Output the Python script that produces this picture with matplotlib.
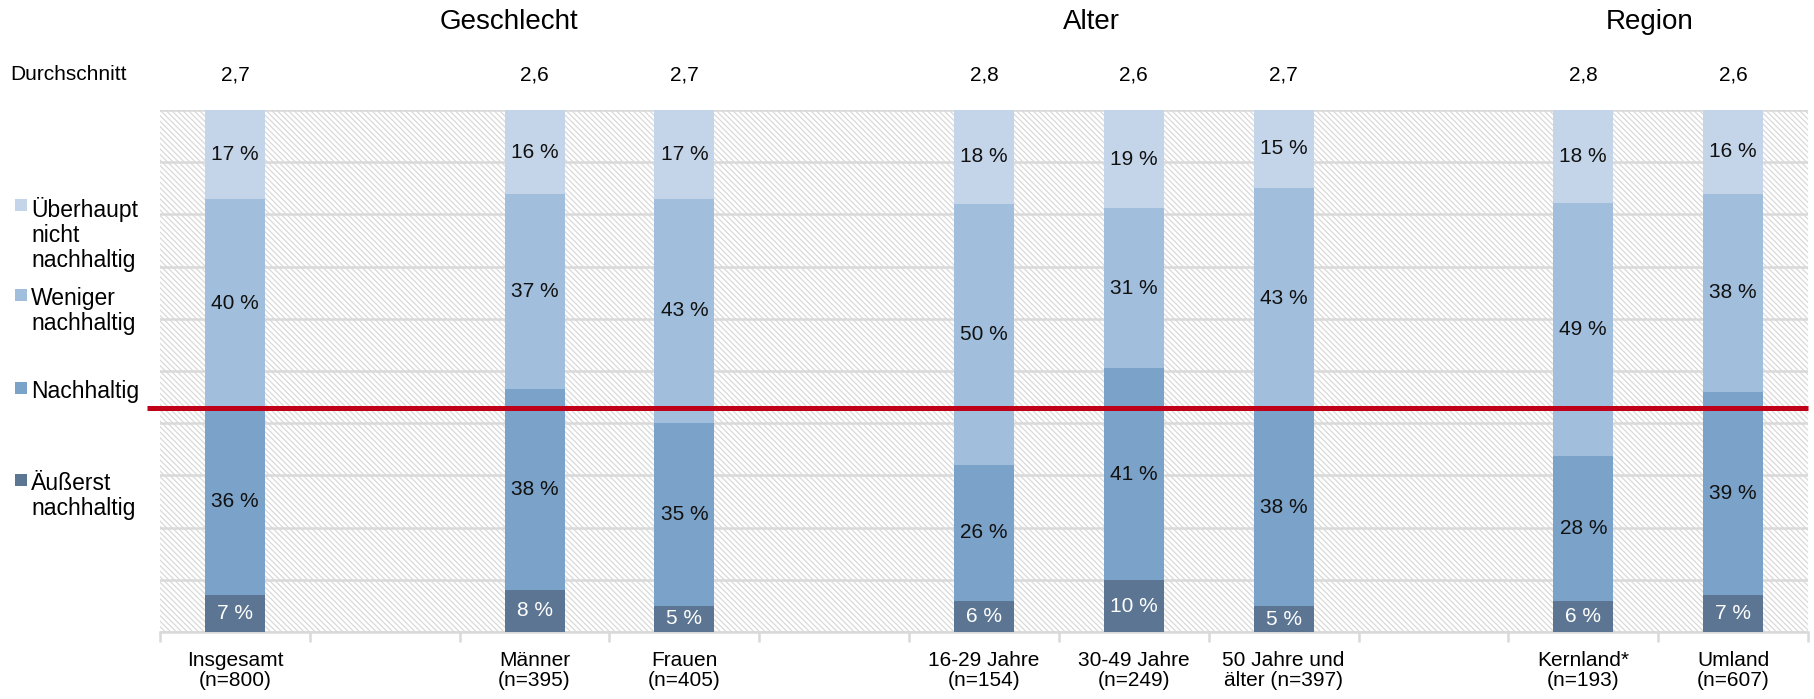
import matplotlib
matplotlib.use("Agg")
import matplotlib.pyplot as plt
import numpy as np
from matplotlib.patches import Rectangle

plt.rcParams['font.family'] = ['Liberation Sans', 'DejaVu Sans']
plt.rcParams['hatch.linewidth'] = 0.9

# Kategorien (leere Strings = Lücken zwischen den Gruppen)
kategorien = ["Insgesamt\n(n=800)", "", "Männer\n(n=395)", "Frauen\n(n=405)", "",
              "16-29 Jahre\n(n=154)", "30-49 Jahre\n(n=249)", "50 Jahre und\nälter (n=397)", "",
              "Kernland*\n(n=193)", "Umland\n(n=607)"]
durchschnitt = ["2,7", "", "2,6", "2,7", "", "2,8", "2,6", "2,7", "", "2,8", "2,6"]

serien = ["Äußerst\nnachhaltig", "Nachhaltig", "Weniger\nnachhaltig", "Überhaupt\nnicht\nnachhaltig"]
aeusserst  = [7, np.nan, 8, 5, np.nan, 6, 10, 5, np.nan, 6, 7]
nachhaltig = [36, np.nan, 38, 35, np.nan, 26, 41, 38, np.nan, 28, 39]
weniger    = [40, np.nan, 37, 43, np.nan, 50, 31, 43, np.nan, 49, 38]
ueberhaupt = [17, np.nan, 16, 17, np.nan, 18, 19, 15, np.nan, 18, 16]
farben = ["#5B7592", "#7BA2C8", "#A1BEDC", "#C4D5EA"]
label_farben = ["white", "#111111", "#111111", "#111111"]

referenzlinie = 43  # rote Linie

gruppen = ["Geschlecht", "Alter", "Region"]
gruppen_x = [1.83, 5.72, 9.44]

fig = plt.figure(figsize=(18.14, 6.99), dpi=100)
ax = fig.add_axes([0.0882, 0.0959, 0.9085, 0.7467])

x = np.arange(len(kategorien))
ax.set_xlim(-0.5, len(kategorien) - 0.5)
ax.set_ylim(0, 100)

# schraffierter Hintergrund
ax.patch.set_facecolor('white')
ax.add_patch(Rectangle((0, 0), 1, 1, transform=ax.transAxes, facecolor='white',
                       edgecolor='#d9d9d9', linewidth=0, hatch='\\' * 6, zorder=0))

ax.set_yticks(np.arange(0, 101, 10))
ax.yaxis.grid(True, color='#d9d9d9', linewidth=1.8, zorder=1)
ax.set_axisbelow(True)
ax.tick_params(axis='y', left=False, labelleft=False)

# 100-%-gestapelt wie im Original
daten = np.array([aeusserst, nachhaltig, weniger, ueberhaupt], dtype=float)
summe = np.nansum(daten, axis=0)
summe[summe == 0] = 1

bottom = np.zeros(len(kategorien))
for werte, farbe, lfarbe, name in zip(daten, farben, label_farben, serien):
    h = np.nan_to_num(werte) / summe * 100
    ax.bar(x, h, 0.4, bottom=bottom, color=farbe, label=name, zorder=2)
    for xi, b, hi, val in zip(x, bottom, h, werte):
        if not np.isnan(val):
            ax.text(xi, b + hi / 2, f"{int(val)} %", ha='center', va='center',
                    fontsize=15, color=lfarbe, zorder=4)
    bottom += h

ax.plot([-0.008, 1], [referenzlinie, referenzlinie], transform=ax.get_yaxis_transform(),
        color='#C00018', linewidth=3.6, zorder=3, clip_on=False, solid_capstyle='butt')

for s in ['top', 'right', 'left']:
    ax.spines[s].set_visible(False)
ax.spines['bottom'].set_color('#d9d9d9')
ax.spines['bottom'].set_linewidth(1.8)
ax.spines['bottom'].set_zorder(1)

ax.set_xticks(x)
ax.set_xticklabels(kategorien, fontsize=15, linespacing=1.05)
ax.tick_params(axis='x', length=0, pad=14)
ax.set_xticks(np.arange(-0.5, len(kategorien), 1), minor=True)
ax.tick_params(axis='x', which='minor', length=7, width=1.8, color='#d9d9d9')

# Durchschnitt
fig.text(0.0055, 1 - 75 / 699, "Durchschnitt", fontsize=15, va='center', ha='left')
for xi, d in zip(x, durchschnitt):
    ax.text(xi, 1 + 35 / 522, d, transform=ax.get_xaxis_transform(), ha='center', va='center', fontsize=15)

# Gruppenüberschriften
for g, gx in zip(gruppen, gruppen_x):
    ax.text(gx, 1 + 88 / 522, g, transform=ax.get_xaxis_transform(), ha='center', va='center', fontsize=20)

# Legende links
legende_y = [205, 295, 388, 480]
for name, farbe, ly in zip(serien[::-1], farben[::-1], legende_y):
    yf = 1 - ly / 699
    fig.patches.append(Rectangle((15 / 1814, yf - 6 / 699), 12 / 1814, 12 / 699,
                                 transform=fig.transFigure, facecolor=farbe, edgecolor='none'))
    fig.text(31 / 1814, yf + 8 / 699, name, fontsize=16.5, va='top', ha='left', linespacing=1.1)

fig.savefig("out.png", dpi=100)
